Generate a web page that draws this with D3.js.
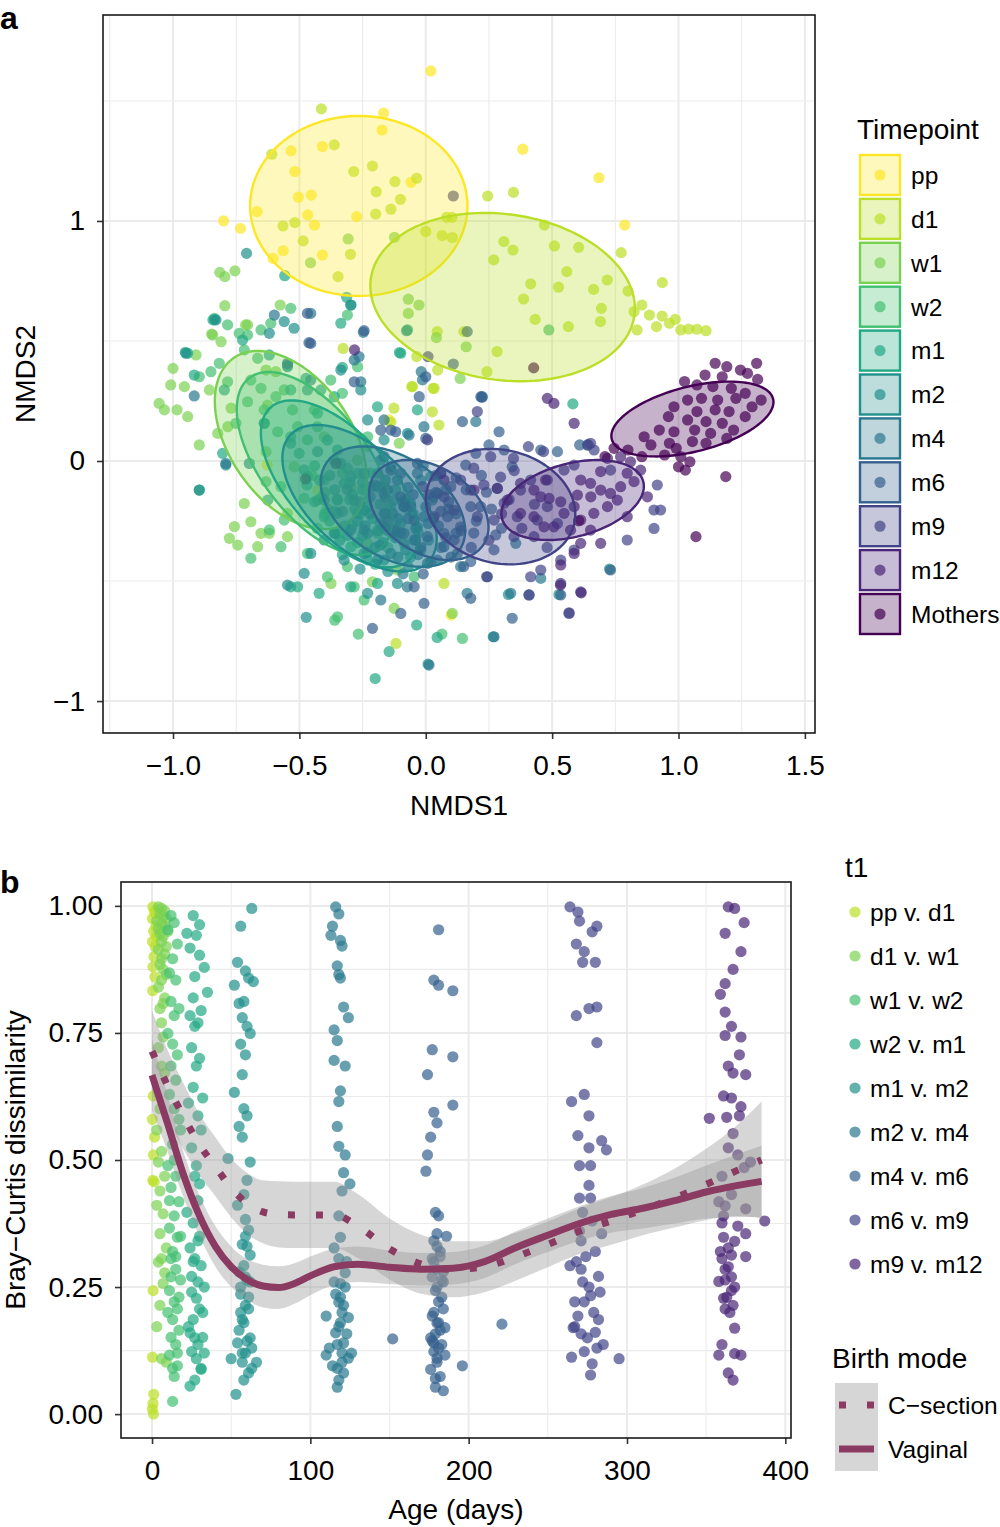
<!DOCTYPE html>
<html>
<head>
<meta charset="utf-8">
<script src="https://d3js.org/d3.v7.min.js"></script>
<style>
  body { margin: 0; background: #fff; }
  text { font-family: "Liberation Sans", Arial, Helvetica, sans-serif; fill: #000; }
</style>
</head>
<body>
<svg id="chart" width="1000" height="1527"></svg>
<script>
// ---------------- panel a : NMDS ordination ----------------
const timepoints = ["pp", "d1", "w1", "w2", "m1", "m2", "m4", "m6", "m9", "m12", "Mothers"];
const timepointColors = ["#FDE725", "#BBDF27", "#7AD151", "#43BF71", "#22A884", "#21908C",
                         "#2A788E", "#35608D", "#414487", "#482576", "#440154"];

// [NMDS1, NMDS2] per sample
const ppPts = [[0.02,1.625],[-0.167,1.449],[-0.173,1.379],[-0.409,1.31],[-0.533,1.292],[-0.518,1.206],[-0.504,1.099],[-0.453,1.108],[-0.667,1.039],[-0.8,1.0],[-0.733,0.969],[-0.467,1.025],[-0.44,0.983],[-0.273,1.018],[-0.564,0.876],[-0.604,0.844],[-0.409,0.858],[-0.058,1.161],[0.384,1.299],[0.685,1.18],[0.787,0.983],[-0.627,-0.017],[-0.427,-0.121],[-0.145,0.171],[0.1,-0.642]];
const d1Pts = [[-0.413,1.467],[-0.609,1.278],[-0.362,1.317],[-0.285,1.206],[-0.211,1.229],[-0.196,1.122],[-0.122,1.164],[-0.036,1.178],[-0.1,1.09],[-0.138,1.049],[-0.198,1.029],[-0.518,0.993],[-0.565,0.979],[-0.485,0.917],[-0.298,0.861],[-0.347,0.768],[0.245,1.104],[0.347,1.119],[0.082,1.015],[0.104,1.015],[0.0,0.956],[0.065,0.939],[0.105,0.931],[0.469,0.983],[0.309,0.914],[0.345,0.879],[0.269,0.838],[0.509,0.896],[0.605,0.89],[0.773,0.868],[0.558,0.789],[0.415,0.738],[0.525,0.724],[0.664,0.715],[0.718,0.754],[0.936,0.743],[0.8,0.708],[0.387,0.675],[0.695,0.636],[0.824,0.622],[0.885,0.608],[0.935,0.604],[0.987,0.59],[0.913,0.56],[0.964,0.574],[1.009,0.546],[1.073,0.549],[1.109,0.543],[0.836,0.546],[0.691,0.581],[0.433,0.59],[0.564,0.56],[0.045,0.539],[0.151,0.539],[0.282,0.456],[-0.327,0.469],[-0.036,0.435],[0.242,0.372],[0.029,0.303],[-0.055,0.31],[0.047,0.379],[0.855,0.65],[-0.053,0.31],[0.033,0.303],[0.026,0.205],[0.052,0.15],[-0.126,0.22],[-0.138,0.162],[1.04,0.55],[0.072,-0.51],[-0.118,-0.76]];
const w1Pts = [[-0.124,0.932],[-0.307,0.925],[-0.456,0.826],[-0.815,0.786],[-0.795,0.768],[-0.755,0.792],[-0.795,0.647],[-0.576,0.65],[-0.069,0.674],[-0.027,0.65],[-0.069,0.615],[0.042,0.514],[0.16,0.476],[0.136,0.344],[-0.713,0.567],[-0.847,0.529],[-1.0,0.386],[-1.009,0.317],[-1.055,0.24],[-1.034,0.213],[-0.984,0.213],[-0.955,0.31],[-0.942,0.185],[-0.896,0.067],[-0.843,0.525],[-0.81,0.497],[-0.909,0.442],[-0.856,0.296],[-0.77,0.22],[-0.705,0.567],[-0.823,0.115],[-0.783,0.143],[-0.757,-0.273],[-0.777,-0.322],[-0.744,-0.35],[-0.718,-0.177],[-0.692,-0.253],[-0.652,-0.301],[-0.619,-0.301],[-0.665,-0.357],[-0.547,-0.315],[-0.632,0.379],[-0.593,0.372],[-0.626,0.233],[-0.632,0.039],[-0.521,-0.024],[-0.547,-0.218],[-0.402,0.101],[-0.231,0.06],[-0.296,-0.107],[-0.27,0.004],[-0.105,0.074],[-0.112,-0.454],[-0.231,-0.343],[-0.375,-0.51],[-0.211,-0.503],[-0.125,-0.614],[0.105,-0.635]];
const w2Pts = [[-0.836,0.594],[-0.784,0.567],[-0.738,0.532],[-0.705,0.525],[-0.652,0.546],[-0.613,0.574],[-0.718,0.463],[-0.665,0.428],[-0.85,0.372],[-0.896,0.351],[-0.817,0.407],[-0.784,0.33],[-0.692,0.337],[-0.652,0.303],[-0.593,0.268],[-0.705,0.247],[-0.751,0.157],[-0.639,0.213],[-0.56,0.296],[-0.527,0.213],[-0.586,0.122],[-0.507,0.143],[-0.468,0.088],[-0.428,0.143],[-0.632,-0.086],[-0.573,-0.107],[-0.619,-0.287],[-0.56,-0.246],[-0.692,-0.405],[-0.573,-0.357],[-0.481,-0.155],[-0.402,-0.079],[-0.349,-0.163],[-0.31,-0.44],[-0.283,-0.524],[-0.389,-0.482],[-0.468,-0.385],[-0.441,0.213],[-0.376,0.337],[-0.33,0.282],[-0.27,0.393],[-0.31,0.608],[-0.534,0.636],[-0.23,0.101],[-0.165,-0.107],[-0.191,-0.301],[-0.244,-0.579],[-0.046,-0.482],[-0.349,-0.649],[-0.36,-0.663],[-0.267,-0.721],[0.145,-0.739],[0.064,-0.721],[0.487,0.546],[-0.4,-0.13],[-0.33,-0.05],[-0.26,-0.22],[-0.18,-0.18],[-0.36,-0.3],[-0.22,-0.05],[-0.12,-0.28],[-0.45,-0.06],[-0.39,-0.2],[-0.29,-0.27],[-0.15,-0.36],[-0.43,-0.28]];
const m1Pts = [[-0.836,0.588],[-0.942,0.449],[-0.916,0.358],[-0.797,0.296],[-0.725,0.504],[-0.619,0.442],[-0.547,0.4],[-0.534,0.296],[-0.474,0.344],[-0.415,0.296],[-0.639,0.157],[-0.534,0.101],[-0.501,0.032],[-0.428,0.199],[-0.362,0.268],[-0.33,0.39],[-0.297,0.65],[-0.468,-0.065],[-0.428,-0.163],[-0.625,-0.163],[-0.804,0.032],[-0.896,-0.121],[-0.534,-0.524],[-0.507,-0.524],[-0.422,-0.551],[-0.297,-0.524],[-0.191,0.226],[-0.099,0.449],[-0.072,0.546],[-0.033,0.213],[-0.402,-0.232],[-0.349,-0.301],[-0.27,-0.218],[-0.296,-0.357],[-0.23,-0.413],[-0.165,-0.274],[-0.125,-0.163],[-0.217,-0.107],[-0.323,-0.093],[-0.362,0.004],[-0.27,-0.051],[-0.086,-0.343],[-0.191,-0.51],[-0.02,-0.371],[-0.2,-0.906],[-0.145,-0.794],[-0.036,-0.683],[0.045,-0.735],[0.582,0.238],[-0.104,0.452],[-0.558,0.772],[-0.313,0.682],[-0.336,0.574],[-0.842,0.588],[-0.951,0.453],[-0.44,-0.02],[-0.38,-0.06],[-0.31,-0.03],[-0.25,-0.12],[-0.19,-0.05],[-0.35,-0.16],[-0.28,-0.2],[-0.21,-0.24],[-0.14,-0.19],[-0.32,-0.27],[-0.25,-0.31],[-0.17,-0.34],[-0.1,-0.26],[-0.06,-0.4],[-0.2,-0.43],[-0.4,-0.22],[-0.12,-0.12],[-0.03,-0.3],[-0.47,-0.1],[-0.41,-0.15],[-0.36,-0.21],[-0.3,-0.16],[-0.23,-0.19],[-0.16,-0.22],[-0.27,-0.34],[-0.13,-0.3],[-0.33,-0.39],[-0.07,-0.2]];
const m2Pts = [[-0.949,0.449],[-0.896,-0.121],[-0.791,-0.017],[-0.83,0.588],[-0.56,0.581],[-0.619,0.532],[-0.521,0.553],[-0.547,0.393],[-0.455,0.337],[-0.468,0.296],[-0.698,-0.01],[-0.639,0.157],[-0.534,0.074],[-0.481,-0.037],[-0.389,0.087],[-0.349,0.046],[-0.296,-0.065],[-0.336,0.379],[-0.257,0.296],[-0.23,0.171],[-0.165,0.088],[-0.138,-0.024],[-0.191,-0.107],[-0.244,-0.204],[-0.349,-0.218],[-0.402,-0.329],[-0.455,-0.385],[-0.323,-0.413],[-0.481,-0.468],[-0.547,-0.517],[-0.165,-0.413],[-0.112,-0.51],[-0.23,-0.551],[-0.033,-0.274],[-0.06,-0.176],[0.026,-0.163],[-0.072,0.115],[0.02,-0.065],[0.727,-0.45],[0.267,-0.732],[0.009,-0.846],[-0.473,-0.651],[0.327,-0.556],[0.527,-0.556],[-0.709,0.865],[-0.296,0.65],[-0.076,0.543],[-0.42,-0.08],[-0.36,-0.12],[-0.3,-0.09],[-0.22,-0.15],[-0.16,-0.08],[-0.09,-0.17],[-0.27,-0.25],[-0.19,-0.29],[-0.12,-0.32],[-0.05,-0.22],[-0.34,-0.33],[-0.23,-0.38],[-0.08,-0.37],[0.01,-0.33],[-0.15,-0.46],[-0.29,-0.14],[0.03,-0.15],[-0.02,-0.08],[-0.44,-0.17],[-0.38,-0.25],[-0.31,-0.31],[-0.25,-0.09],[-0.18,-0.26],[-0.11,-0.24],[-0.04,-0.28],[-0.2,-0.36],[-0.26,-0.45],[-0.07,-0.44]];
const m4Pts = [[-0.916,0.271],[-0.791,-0.01],[-0.599,0.608],[-0.547,0.407],[-0.455,0.615],[-0.283,0.421],[-0.257,0.33],[-0.428,0.039],[-0.336,-0.01],[-0.283,-0.163],[-0.244,-0.051],[-0.178,0.004],[-0.112,-0.079],[-0.086,-0.19],[-0.165,-0.218],[-0.23,-0.301],[-0.296,-0.287],[-0.362,-0.301],[-0.402,-0.163],[-0.244,-0.385],[-0.138,-0.385],[-0.046,-0.329],[-0.007,-0.232],[0.072,-0.301],[0.046,-0.413],[-0.073,-0.524],[-0.178,-0.579],[-0.165,0.171],[-0.033,-0.051],[-0.007,0.143],[0.224,0.268],[0.198,0.164],[-0.013,0.338],[-0.066,0.108],[0.336,-0.551],[0.27,-0.732],[0.013,-0.85],[0.164,-0.551],[0.455,-0.489],[0.356,-0.343],[0.138,-0.44],[-0.018,0.372],[-0.264,0.435],[-0.247,0.536],[-0.33,-0.21],[-0.26,-0.17],[-0.2,-0.1],[-0.13,-0.22],[-0.07,-0.11],[0.0,-0.19],[0.05,-0.27],[-0.04,-0.33],[-0.11,-0.4],[-0.18,-0.35],[-0.24,-0.27],[0.08,-0.12],[0.12,-0.22],[0.02,-0.42],[-0.09,-0.47],[-0.16,-0.15],[-0.01,-0.02],[0.06,-0.36],[-0.31,-0.12],[-0.22,-0.22],[-0.15,-0.29],[-0.08,-0.16],[0.01,-0.26],[0.09,-0.2],[-0.03,-0.39],[0.04,-0.13],[-0.19,-0.41],[0.12,-0.3]];
const m6Pts = [[0.145,0.164],[0.29,0.122],[0.25,0.067],[0.31,0.046],[0.158,-0.017],[0.198,0.032],[0.283,-0.114],[0.342,-0.024],[0.277,-0.308],[0.217,-0.19],[0.138,-0.274],[0.072,-0.357],[0.125,-0.385],[0.178,-0.419],[0.244,-0.482],[0.178,-0.572],[0.007,-0.426],[-0.046,-0.524],[-0.099,-0.635],[-0.211,-0.697],[-0.007,-0.593],[0.086,-0.232],[0.046,-0.135],[-0.059,-0.19],[-0.099,-0.051],[-0.152,-0.121],[-0.125,-0.288],[0.007,-0.315],[0.112,-0.329],[0.059,-0.051],[-0.033,-0.01],[-0.165,0.018],[-0.178,0.129],[-0.119,0.122],[-0.026,0.268],[0.0,0.094],[0.099,-0.107],[0.178,-0.19],[0.408,-0.558],[0.342,-0.655],[0.455,0.046],[0.521,0.039],[0.64,0.067],[0.731,-0.454],[0.534,-0.558],[-0.468,0.615],[-0.244,0.543],[-0.283,0.33],[-0.455,0.49],[-0.138,0.129],[-0.244,-0.287],[-0.086,-0.301],[-0.165,-0.135],[0.218,0.268],[0.609,0.067],[0.164,0.539],[0.109,0.404],[0.0,0.351],[0.222,0.265],[-0.462,0.493],[-0.05,-0.14],[0.03,-0.24],[0.09,-0.17],[-0.1,-0.3],[0.14,-0.29],[0.2,-0.25],[0.16,-0.12],[0.22,-0.06],[0.08,-0.32],[-0.02,-0.36],[0.1,-0.4],[0.26,-0.2],[0.04,-0.06],[-0.15,-0.25],[0.18,-0.36],[0.3,-0.28],[0.06,-0.21],[0.12,-0.07],[0.19,-0.3],[0.24,-0.13],[-0.07,-0.24],[0.01,-0.14],[0.15,-0.44],[0.27,-0.37],[-0.01,-0.47],[0.33,-0.16]];
const m9Pts = [[0.406,0.06],[0.466,0.039],[0.347,0.011],[0.257,0.018],[0.296,-0.067],[0.415,-0.079],[0.481,-0.079],[0.547,-0.038],[0.587,-0.017],[0.666,0.046],[0.652,0.074],[0.731,-0.038],[0.375,-0.121],[0.31,-0.176],[0.362,-0.232],[0.441,-0.246],[0.481,-0.19],[0.521,-0.26],[0.428,-0.315],[0.349,-0.315],[0.27,-0.246],[0.204,-0.232],[0.178,-0.121],[0.112,-0.204],[0.072,-0.149],[0.033,-0.232],[-0.046,-0.246],[-0.099,-0.149],[-0.138,-0.038],[-0.086,-0.19],[-0.013,-0.107],[0.059,-0.051],[0.138,-0.079],[0.534,-0.413],[0.587,-0.371],[0.613,-0.545],[0.455,-0.454],[0.241,-0.482],[0.415,-0.482],[0.567,-0.635],[0.534,-0.51],[0.204,0.206],[0.007,0.088],[0.903,-0.281],[0.797,-0.329],[0.903,-0.204],[0.929,-0.204],[0.916,-0.1],[0.567,-0.632],[0.409,-0.558],[0.642,0.067],[0.109,1.104],[0.009,0.435],[0.23,-0.1],[0.3,-0.22],[0.38,-0.28],[0.25,-0.33],[0.43,-0.18],[0.35,-0.04],[0.19,-0.03],[0.48,-0.36]];
const m12Pts = [[0.455,-0.149],[0.488,-0.156],[0.534,-0.17],[0.587,-0.19],[0.613,-0.079],[0.653,-0.149],[0.692,-0.121],[0.731,-0.135],[0.771,-0.107],[0.797,-0.051],[0.824,-0.086],[0.85,-0.038],[0.81,-0.003],[0.771,0.018],[0.719,0.011],[0.692,-0.044],[0.652,-0.093],[0.6,-0.142],[0.547,-0.218],[0.507,-0.274],[0.468,-0.274],[0.428,-0.232],[0.375,-0.218],[0.323,-0.163],[0.375,-0.093],[0.428,-0.121],[0.474,-0.079],[0.665,-0.218],[0.719,-0.19],[0.758,-0.163],[0.613,-0.246],[0.573,-0.288],[0.652,-0.288],[0.692,-0.343],[0.613,-0.343],[0.587,-0.385],[0.534,-0.433],[0.877,-0.149],[0.797,-0.232],[0.507,0.24],[0.481,0.261],[0.587,0.157],[0.283,-0.114],[0.191,-0.121],[0.072,-0.079],[0.615,-0.549],[0.533,-0.517],[-0.282,0.463]];
const mothersPts = [[1.145,0.407],[1.191,0.393],[1.309,0.407],[1.245,0.379],[1.105,0.358],[1.173,0.351],[1.273,0.365],[1.313,0.34],[1.024,0.331],[1.073,0.317],[1.136,0.31],[1.209,0.303],[1.264,0.282],[1.036,0.254],[1.091,0.261],[1.155,0.254],[1.227,0.261],[1.291,0.226],[1.327,0.254],[0.982,0.226],[1.073,0.206],[1.145,0.213],[1.2,0.206],[1.264,0.185],[0.96,0.185],[1.036,0.171],[1.109,0.164],[1.173,0.157],[1.218,0.129],[0.924,0.129],[0.982,0.122],[1.064,0.129],[1.127,0.115],[1.191,0.094],[0.864,0.101],[0.891,0.067],[0.964,0.074],[1.055,0.081],[1.109,0.074],[0.991,0.053],[0.945,0.025],[1.009,0.018],[1.045,-0.003],[1.0,-0.024],[1.027,-0.038],[1.187,-0.065],[1.069,-0.315],[0.745,0.053],[0.855,0.018],[0.427,0.388],[0.605,-0.249],[-0.355,-0.01],[-0.476,-0.075],[0.8,0.046],[0.709,0.018]];
const nmdsPoints = [ppPts, d1Pts, w1Pts, w2Pts, m1Pts, m2Pts, m4Pts, m6Pts, m9Pts, m12Pts, mothersPts];

// stat_ellipse outlines: centre, semi-axes (NMDS units) and tilt in degrees
const ellipseCx = [-0.265, 0.304, -0.534, -0.44, -0.34, -0.262, -0.13, 0.012, 0.296, 0.581, 1.055];
const ellipseCy = [1.0625, 0.683, 0.0875, -0.01, -0.095, -0.155, -0.19, -0.204, -0.19, -0.1625, 0.175];
const ellipseA = [0.43, 0.527, 0.41, 0.44, 0.42, 0.38, 0.32, 0.26, 0.30, 0.29, 0.33];
const ellipseB = [0.375, 0.345, 0.245, 0.215, 0.205, 0.205, 0.205, 0.178, 0.235, 0.152, 0.135];
const ellipseAngle = [0, -9, -58, -55, -50, -45, -36, -35, -16, 16, 15];

const nmds1Major = [-1, -0.5, 0, 0.5, 1, 1.5];
const nmds1Minor = [-1.25, -0.75, -0.25, 0.25, 0.75, 1.25];
const nmds2Major = [-1, 0, 1];
const nmds2Minor = [-0.5, 0.5, 1.5];

// ---------------- panel b : Bray-Curtis vs age ----------------
const pairLabels = ["pp v. d1", "d1 v. w1", "w1 v. w2", "w2 v. m1", "m1 v. m2", "m2 v. m4", "m4 v. m6", "m6 v. m9", "m9 v. m12"];
const pairColors = ["#BBDF27", "#7AD151", "#43BF71", "#22A884", "#21908C", "#2A788E", "#35608D", "#414487", "#482576"];

// [age in days, dissimilarity]
const ppVd1 = [[0.5,0.998],[1.5,0.99],[0.2,0.975],[2.5,0.96],[1,0.95],[0.3,0.93],[2,0.92],[1.2,0.9],[0.6,0.88],[0.4,0.833],[1.8,0.86],[0.8,0.626],[0.2,0.58],[1.6,0.545],[0.9,0.51],[0.5,0.46],[1.4,0.457],[0.7,0.243],[0.3,0.112],[1.1,0.039],[0.6,0.021],[0.9,0.0],[0.2,0.01],[2.2,0.985],[2.8,0.94]];
const d1Vw1 = [[4,0.998],[6,0.995],[8,0.99],[5,0.985],[7,0.98],[9,0.975],[3,0.97],[6,0.965],[8,0.96],[4,0.955],[10,0.95],[5,0.945],[7,0.94],[6,0.93],[9,0.92],[4,0.914],[8,0.905],[6,0.896],[5,0.885],[7,0.875],[9,0.865],[6,0.854],[4,0.84],[8,0.819],[7,0.808],[5,0.798],[6,0.77],[7,0.742],[4,0.721],[6,0.685],[8,0.671],[5,0.601],[3,0.559],[6,0.517],[4,0.496],[8,0.468],[5,0.439],[3,0.411],[7,0.394],[5,0.355],[9,0.327],[6,0.306],[4,0.299],[8,0.278],[7,0.257],[5,0.214],[3,0.172],[6,0.109],[9,0.102]];
const w1Vw2 = [[12,0.981],[14,0.967],[10,0.953],[16,0.925],[13,0.896],[11,0.868],[15,0.854],[12,0.812],[17,0.798],[14,0.784],[10,0.749],[13,0.728],[16,0.707],[12,0.685],[15,0.657],[11,0.629],[14,0.601],[18,0.559],[13,0.531],[10,0.489],[15,0.468],[12,0.446],[17,0.418],[14,0.39],[11,0.366],[16,0.348],[13,0.32],[12,0.306],[15,0.285],[18,0.264],[11,0.243],[14,0.221],[16,0.207],[13,0.186],[17,0.165],[12,0.151],[15,0.137],[11,0.116],[16,0.095],[14,0.074],[13,0.025],[10,0.2],[17,0.23],[12,0.27],[15,0.31],[18,0.35],[11,0.42],[14,0.5],[16,0.12],[13,0.09],[17,0.58]];
const w2Vm1 = [[26,0.981],[30,0.963],[22,0.946],[28,0.942],[24,0.917],[30,0.903],[33,0.879],[27,0.861],[35,0.83],[26,0.819],[31,0.794],[24,0.784],[29,0.77],[27,0.763],[25,0.721],[30,0.7],[28,0.685],[26,0.643],[32,0.622],[23,0.612],[29,0.587],[31,0.559],[25,0.524],[28,0.489],[27,0.468],[30,0.453],[22,0.397],[26,0.376],[29,0.341],[24,0.327],[27,0.306],[31,0.292],[25,0.271],[33,0.25],[28,0.228],[30,0.207],[26,0.186],[23,0.172],[32,0.151],[29,0.137],[25,0.123],[28,0.109],[31,0.088],[27,0.067],[24,0.055],[29,0.26],[26,0.3],[32,0.2],[24,0.16],[30,0.35],[27,0.15],[33,0.12],[25,0.24],[29,0.42],[31,0.09]];
const m1Vm2 = [[63,0.995],[56,0.96],[54,0.889],[59,0.872],[61,0.858],[64,0.851],[52,0.844],[58,0.812],[55,0.808],[57,0.78],[60,0.763],[62,0.749],[56,0.728],[59,0.707],[57,0.668],[52,0.633],[58,0.601],[60,0.587],[55,0.566],[57,0.545],[48,0.503],[62,0.496],[60,0.46],[58,0.432],[54,0.411],[59,0.383],[61,0.362],[57,0.334],[62,0.313],[58,0.292],[60,0.264],[56,0.236],[59,0.214],[61,0.207],[57,0.186],[55,0.165],[60,0.144],[63,0.13],[50,0.109],[57,0.102],[66,0.102],[61,0.081],[58,0.067],[53,0.039],[62,0.15],[59,0.12],[56,0.25],[59,0.27],[58,0.18],[61,0.23],[55,0.28],[60,0.33],[57,0.12],[63,0.09],[56,0.2],[62,0.26],[59,0.35],[54,0.14]];
const m2Vm4 = [[116,0.998],[118,0.984],[114,0.96],[113,0.942],[119,0.932],[120,0.921],[117,0.882],[118,0.865],[119,0.858],[121,0.801],[124,0.78],[115,0.756],[117,0.735],[115,0.696],[122,0.685],[119,0.636],[118,0.615],[117,0.566],[118,0.527],[122,0.51],[121,0.475],[125,0.453],[120,0.439],[118,0.39],[119,0.348],[115,0.327],[118,0.306],[122,0.278],[119,0.257],[116,0.236],[121,0.214],[110,0.193],[118,0.172],[123,0.158],[117,0.137],[110,0.116],[120,0.102],[114,0.095],[121,0.081],[118,0.067],[117,0.053],[124,0.11],[112,0.13],[120,0.2],[119,0.23],[126,0.12],[119,0.18],[122,0.25],[116,0.16],[121,0.14],[118,0.22],[123,0.3],[117,0.09],[120,0.12],[115,0.26],[124,0.19]];
const m4Vm6 = [[181,0.953],[178,0.854],[181,0.844],[190,0.833],[177,0.717],[190,0.703],[174,0.668],[190,0.608],[178,0.594],[180,0.573],[176,0.545],[174,0.51],[173,0.478],[179,0.397],[181,0.39],[180,0.355],[178,0.341],[182,0.32],[177,0.306],[180,0.285],[183,0.264],[179,0.243],[181,0.221],[184,0.207],[177,0.193],[180,0.179],[182,0.165],[179,0.158],[177,0.144],[183,0.137],[181,0.13],[178,0.123],[185,0.116],[180,0.102],[176,0.088],[182,0.074],[179,0.053],[184,0.046],[152,0.148],[221,0.177],[180,0.25],[184,0.28],[178,0.3],[186,0.35],[196,0.095],[181,0.18],[178,0.2],[183,0.23],[180,0.11],[176,0.15],[184,0.26],[179,0.07],[182,0.31],[177,0.27],[185,0.17],[180,0.33],[178,0.14]];
const m6Vm9 = [[264,0.998],[269,0.988],[270,0.97],[281,0.96],[278,0.949],[268,0.925],[273,0.91],[272,0.889],[280,0.889],[281,0.801],[276,0.798],[268,0.784],[281,0.731],[265,0.615],[273,0.629],[276,0.587],[269,0.548],[276,0.524],[284,0.538],[287,0.52],[270,0.489],[277,0.489],[276,0.45],[270,0.425],[277,0.425],[272,0.397],[284,0.355],[271,0.341],[280,0.32],[264,0.292],[271,0.285],[282,0.271],[276,0.25],[267,0.221],[277,0.233],[282,0.186],[269,0.193],[271,0.158],[280,0.161],[285,0.137],[265,0.112],[273,0.123],[278,0.099],[277,0.077],[295,0.109],[267,0.172],[273,0.221],[272,0.26],[279,0.2],[268,0.3],[275,0.15],[283,0.24],[270,0.36],[278,0.38],[266,0.17],[281,0.13],[274,0.31]];
const m9Vm12 = [[364,0.998],[368,0.995],[374,0.967],[362,0.946],[372,0.91],[367,0.875],[362,0.847],[359,0.826],[362,0.791],[366,0.763],[362,0.745],[372,0.742],[371,0.707],[364,0.685],[367,0.671],[375,0.668],[361,0.626],[366,0.622],[372,0.605],[371,0.587],[363,0.584],[352,0.582],[367,0.552],[364,0.524],[370,0.51],[378,0.496],[360,0.468],[374,0.485],[358,0.418],[366,0.432],[375,0.404],[387,0.38],[360,0.376],[375,0.355],[361,0.348],[364,0.327],[360,0.306],[366,0.313],[375,0.31],[362,0.285],[362,0.264],[358,0.261],[366,0.243],[361,0.228],[367,0.214],[362,0.207],[368,0.169],[360,0.137],[358,0.116],[372,0.116],[368,0.119],[364,0.081],[367,0.067],[364,0.29],[368,0.34],[361,0.39],[366,0.27],[363,0.23],[370,0.37],[359,0.32],[365,0.2],[368,0.25],[362,0.41]];
const pairPoints = [ppVd1, d1Vw1, w1Vw2, w2Vm1, m1Vm2, m2Vm4, m4Vm6, m6Vm9, m9Vm12];

// loess fits by birth mode with their standard-error bands
const birthModes = ["C\u2212section", "Vaginal"];
const fitAges = [0, 10, 20, 30, 40, 50, 60, 70, 80, 90, 100, 115, 130, 150, 170, 190, 210, 230, 250, 270, 290, 310, 330, 350, 370, 385];
const csectionFit = [0.714, 0.645, 0.585, 0.53, 0.487, 0.445, 0.415, 0.398, 0.393, 0.392, 0.392, 0.392, 0.37, 0.325, 0.295, 0.285, 0.29, 0.31, 0.334, 0.36, 0.38, 0.402, 0.425, 0.452, 0.48, 0.5];
const csectionSe = [0.08, 0.07, 0.065, 0.06, 0.058, 0.058, 0.06, 0.062, 0.065, 0.065, 0.065, 0.065, 0.063, 0.06, 0.058, 0.055, 0.05, 0.047, 0.045, 0.045, 0.047, 0.05, 0.058, 0.07, 0.09, 0.115];
const vaginalFit = [0.667, 0.57, 0.47, 0.39, 0.33, 0.29, 0.265, 0.252, 0.249, 0.257, 0.272, 0.29, 0.295, 0.289, 0.285, 0.287, 0.30, 0.328, 0.352, 0.375, 0.393, 0.405, 0.42, 0.437, 0.45, 0.458];
const vaginalSe = [0.07, 0.055, 0.045, 0.04, 0.04, 0.04, 0.04, 0.042, 0.042, 0.04, 0.038, 0.036, 0.035, 0.033, 0.032, 0.032, 0.032, 0.032, 0.033, 0.034, 0.036, 0.04, 0.045, 0.052, 0.062, 0.07];

const ageMajor = [0, 100, 200, 300, 400];
const ageMinor = [50, 150, 250, 350];
const bcMajor = [0, 0.25, 0.5, 0.75, 1];
const bcMinor = [0.125, 0.375, 0.625, 0.875];

// ---------------- drawing ----------------
const FONT = '"Liberation Sans", Arial, Helvetica, sans-serif';
const lineColor = "#8B3A62";
const pointRadius = 5.6;
const svg = d3.select("#chart");

// light grey grid inside a panel box
function drawGrid(box, xs, ys, xMaj, xMin, yMaj, yMin) {
    const g = svg.append("g");
    const vlines = (vals, w) => g.selectAll(null).data(vals).enter().append("line")
        .attr("x1", d => xs(d)).attr("x2", d => xs(d))
        .attr("y1", box.top).attr("y2", box.bottom)
        .attr("stroke", "#ebebeb").attr("stroke-width", w);
    const hlines = (vals, w) => g.selectAll(null).data(vals).enter().append("line")
        .attr("x1", box.left).attr("x2", box.right)
        .attr("y1", d => ys(d)).attr("y2", d => ys(d))
        .attr("stroke", "#ebebeb").attr("stroke-width", w);
    vlines(xMin, 1.1); hlines(yMin, 1.1);
    vlines(xMaj, 2); hlines(yMaj, 2);
}

// ticks, labels and panel border
function drawAxes(box, xs, ys, xTicks, yTicks, xFmt, yFmt) {
    const ax = svg.append("g").attr("transform", `translate(0,${box.bottom})`)
        .call(d3.axisBottom(xs).tickValues(xTicks).tickFormat(xFmt).tickSize(6).tickPadding(16));
    const ay = svg.append("g").attr("transform", `translate(${box.left},0)`)
        .call(d3.axisLeft(ys).tickValues(yTicks).tickFormat(yFmt).tickSize(6).tickPadding(12));
    [ax, ay].forEach(a => {
        a.attr("font-size", 28).attr("font-family", FONT);
        a.select(".domain").remove();
        a.selectAll(".tick line").attr("stroke", "#333").attr("stroke-width", 1.6);
        a.selectAll(".tick text").attr("fill", "#000");
    });
    svg.append("rect")
        .attr("x", box.left).attr("y", box.top)
        .attr("width", box.right - box.left).attr("height", box.bottom - box.top)
        .attr("fill", "none").attr("stroke", "#1a1a1a").attr("stroke-width", 1.6);
}

function clipFor(id, box) {
    svg.append("clipPath").attr("id", id).append("rect")
        .attr("x", box.left).attr("y", box.top)
        .attr("width", box.right - box.left).attr("height", box.bottom - box.top);
    return `url(#${id})`;
}

// ---- panel a ----
const aBox = {left: 103, right: 815, top: 15, bottom: 733};
const xA = d3.scaleLinear().domain([-1.277, 1.54]).range([aBox.left, aBox.right]);
const yA = d3.scaleLinear().domain([-1.133, 1.858]).range([aBox.bottom, aBox.top]);

drawGrid(aBox, xA, yA, nmds1Major, nmds1Minor, nmds2Major, nmds2Minor);
const plotA = svg.append("g").attr("clip-path", clipFor("clipA", aBox));

// points first, ellipses are layered on top as in the original
nmdsPoints.forEach((pts, i) => {
    plotA.append("g").selectAll("circle")
        .data(pts).enter().append("circle")
        .attr("cx", d => xA(d[0]))
        .attr("cy", d => yA(d[1]))
        .attr("r", pointRadius)
        .attr("fill", timepointColors[i])
        .attr("fill-opacity", 0.7);
});

const ellipseLine = d3.line().x(d => xA(d[0])).y(d => yA(d[1])).curve(d3.curveLinearClosed);
const turn = d3.range(0, 144).map(k => k / 144 * 2 * Math.PI);
timepoints.forEach((tp, i) => {
    const th = ellipseAngle[i] * Math.PI / 180;
    const outline = turn.map(t => [
        ellipseCx[i] + ellipseA[i] * Math.cos(t) * Math.cos(th) - ellipseB[i] * Math.sin(t) * Math.sin(th),
        ellipseCy[i] + ellipseA[i] * Math.cos(t) * Math.sin(th) + ellipseB[i] * Math.sin(t) * Math.cos(th)
    ]);
    plotA.append("path")
        .attr("d", ellipseLine(outline))
        .attr("fill", timepointColors[i]).attr("fill-opacity", 0.3)
        .attr("stroke", timepointColors[i]).attr("stroke-width", 2.4);
});

drawAxes(aBox, xA, yA, nmds1Major, nmds2Major, d3.format(".1f"), d3.format("d"));

svg.append("text").attr("x", (aBox.left + aBox.right) / 2).attr("y", 815)
    .attr("text-anchor", "middle").style("font-size", "28px").text("NMDS1");
svg.append("text").attr("transform", `translate(35,${(aBox.top + aBox.bottom) / 2}) rotate(-90)`)
    .attr("text-anchor", "middle").style("font-size", "28px").text("NMDS2");
svg.append("text").attr("x", 0).attr("y", 29)
    .style("font-size", "32px").style("font-weight", "bold").text("a");

// legend a
const legA = svg.append("g");
legA.append("text").attr("x", 857).attr("y", 139).style("font-size", "28px").text("Timepoint");
const legItems = legA.selectAll(".item").data(timepoints).enter().append("g")
    .attr("transform", (d, i) => `translate(0,${175 + i * 43.9})`);
legItems.append("rect")
    .attr("x", 860).attr("y", -20).attr("width", 40).attr("height", 40)
    .attr("fill", (d, i) => timepointColors[i]).attr("fill-opacity", 0.3)
    .attr("stroke", (d, i) => timepointColors[i]).attr("stroke-width", 2.4);
legItems.append("circle")
    .attr("cx", 880).attr("cy", 0).attr("r", pointRadius)
    .attr("fill", (d, i) => timepointColors[i]).attr("fill-opacity", 0.7);
legItems.append("text")
    .attr("x", 911).attr("y", 0).attr("dy", "0.36em")
    .style("font-size", "24.5px").text(d => d);

// ---- panel b ----
const bBox = {left: 121, right: 791, top: 882, bottom: 1438};
const xB = d3.scaleLinear().domain([-19.6, 403.6]).range([bBox.left, bBox.right]);
const yB = d3.scaleLinear().domain([-0.047, 1.047]).range([bBox.bottom, bBox.top]);

drawGrid(bBox, xB, yB, ageMajor, ageMinor, bcMajor, bcMinor);
const plotB = svg.append("g").attr("clip-path", clipFor("clipB", bBox));

pairPoints.forEach((pts, i) => {
    plotB.append("g").selectAll("circle")
        .data(pts).enter().append("circle")
        .attr("cx", d => xB(d[0]))
        .attr("cy", d => yB(d[1]))
        .attr("r", pointRadius)
        .attr("fill", pairColors[i])
        .attr("fill-opacity", 0.7);
});

// standard-error ribbons, then the fitted curves
const fits = [
    {fit: csectionFit, se: csectionSe, dash: "7,21"},
    {fit: vaginalFit, se: vaginalSe, dash: null}
];
fits.forEach(f => {
    const band = d3.area()
        .x((d, i) => xB(fitAges[i]))
        .y0((d, i) => yB(f.fit[i] - f.se[i]))
        .y1((d, i) => yB(f.fit[i] + f.se[i]))
        .curve(d3.curveMonotoneX);
    plotB.append("path").attr("d", band(f.fit))
        .attr("fill", "#999999").attr("fill-opacity", 0.4);
});
fits.forEach(f => {
    const curve = d3.line()
        .x((d, i) => xB(fitAges[i]))
        .y(d => yB(d))
        .curve(d3.curveMonotoneX);
    plotB.append("path").attr("d", curve(f.fit))
        .attr("fill", "none").attr("stroke", lineColor).attr("stroke-width", 7)
        .attr("stroke-dasharray", f.dash);
});

drawAxes(bBox, xB, yB, ageMajor, bcMajor, d3.format("d"), d3.format(".2f"));

svg.append("text").attr("x", (bBox.left + bBox.right) / 2).attr("y", 1519)
    .attr("text-anchor", "middle").style("font-size", "28px").text("Age (days)");
svg.append("text").attr("transform", `translate(25,${(bBox.top + bBox.bottom) / 2}) rotate(-90)`)
    .attr("text-anchor", "middle").style("font-size", "28px").text("Bray\u2212Curtis dissimilarity");
svg.append("text").attr("x", 0).attr("y", 893)
    .style("font-size", "32px").style("font-weight", "bold").text("b");

// legend b: t1 colours
const legB = svg.append("g");
legB.append("text").attr("x", 845).attr("y", 877).style("font-size", "28px").text("t1");
const pairItems = legB.selectAll(".pair").data(pairLabels).enter().append("g")
    .attr("transform", (d, i) => `translate(0,${912 + i * 44})`);
pairItems.append("circle").attr("cx", 855).attr("cy", 0).attr("r", pointRadius)
    .attr("fill", (d, i) => pairColors[i]).attr("fill-opacity", 0.7);
pairItems.append("text").attr("x", 870).attr("y", 0).attr("dy", "0.36em")
    .style("font-size", "24.5px").text(d => d);

// legend b: birth mode
legB.append("text").attr("x", 832).attr("y", 1368).style("font-size", "28px").text("Birth mode");
const modeItems = legB.selectAll(".mode").data(birthModes).enter().append("g")
    .attr("transform", (d, i) => `translate(0,${1405 + i * 44})`);
modeItems.append("rect").attr("x", 835).attr("y", -22).attr("width", 43).attr("height", 44)
    .attr("fill", "#999999").attr("fill-opacity", 0.4);
modeItems.append("line").attr("x1", 839).attr("x2", 874).attr("y1", 0).attr("y2", 0)
    .attr("stroke", lineColor).attr("stroke-width", 7)
    .attr("stroke-dasharray", (d, i) => fits[i].dash);
modeItems.append("text").attr("x", 888).attr("y", 0).attr("dy", "0.36em")
    .style("font-size", "24.5px").text(d => d);
</script>
</body>
</html>
